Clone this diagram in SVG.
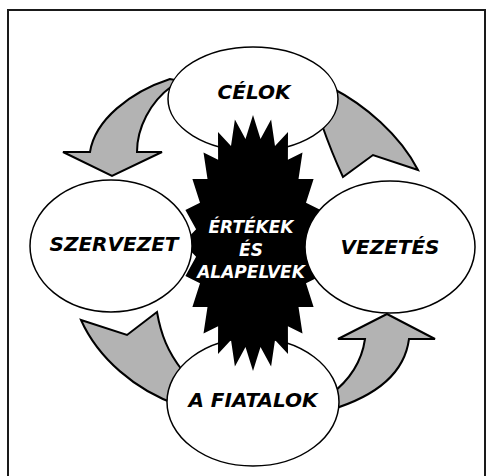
<svg xmlns="http://www.w3.org/2000/svg" width="490" height="476" viewBox="0 0 490 476">
<style>
.arrow{fill:#b3b3b3;stroke:#000;stroke-width:2;stroke-linejoin:miter}
.node{fill:#fff;stroke:#000;stroke-width:1.5}
.lbl{font-family:"DejaVu Sans",Verdana,sans-serif;font-weight:bold;font-style:italic;font-size:20px;text-anchor:middle;fill:#000}
.ctr{font-family:"DejaVu Sans",Verdana,sans-serif;font-weight:bold;font-style:italic;font-size:17px;text-anchor:middle;fill:#fff}
</style>
<rect width="490" height="476" fill="#fff"/>
<path d="M8,476 L8,10 L485,10 L485,476" fill="none" stroke="#1a1a1a" stroke-width="2"/>
<g id="connectors">
<path class="arrow" d="M170,79 C130,92 95,120 90,152 L63,152 L112,176 L162,152 L137,152 C137,128 150,102 172,86 L185,82 Z"/>
<path class="arrow" d="M332,88 C365,105 400,135 418,170 L373,155 L343,177 C336,162 329,145 322,125 Z"/>
<path class="arrow" d="M81,320 L127,335 L157,312 C161,335 168,352 182,370 L178,405 C135,390 98,358 81,320 Z"/>
<path class="arrow" d="M387,314 L435,339 L409,339 C405,370 380,395 330,410 L330,395 C350,380 362,360 365,339 L338,339 Z"/>
</g>
<g id="celok">
<ellipse class="node" cx="253" cy="99" rx="85" ry="52"/>
<text class="lbl" x="254" y="99">CÉLOK</text>
</g>
<g id="fiatalok">
<ellipse class="node" cx="253" cy="402" rx="86" ry="64"/>
<text class="lbl" x="253" y="407">A FIATALOK</text>
</g>
<g id="ertekek">
<polygon fill="#000" points="253,115 260.5,138.9 271.1,119.4 275,146 288,132.1 287.9,159.7 302.5,152.5 298.5,179.1 313.6,179 306,202.8 320.6,209.9 309.9,229.3 323,243 309.9,256.7 320.6,276.1 306,283.2 313.6,307 298.5,306.9 302.5,333.5 287.9,326.3 288,353.9 275,340 271.1,366.6 260.5,347.1 253,371 245.5,347.1 234.9,366.6 231,340 218,353.9 218.1,326.3 203.5,333.5 207.5,306.9 192.4,307 200,283.2 185.4,276.1 196.1,256.7 183,243 196.1,229.3 185.4,209.9 200,202.8 192.4,179 207.5,179.1 203.5,152.5 218.1,159.7 218,132.1 231,146 234.9,119.4 245.5,138.9"/>
</g>
<g id="szervezet">
<ellipse class="node" cx="111" cy="246" rx="81" ry="66"/>
<text class="lbl" x="114" y="251">SZERVEZET</text>
</g>
<g id="vezetes">
<ellipse class="node" cx="390" cy="247" rx="85" ry="66"/>
<text class="lbl" x="390" y="254">VEZETÉS</text>
</g>
<g id="ertekek-label">
<text class="ctr" x="251" y="233">ÉRTÉKEK</text>
<text class="ctr" x="251" y="256">ÉS</text>
<text class="ctr" x="251" y="278">ALAPELVEK</text>
</g>
</svg>
